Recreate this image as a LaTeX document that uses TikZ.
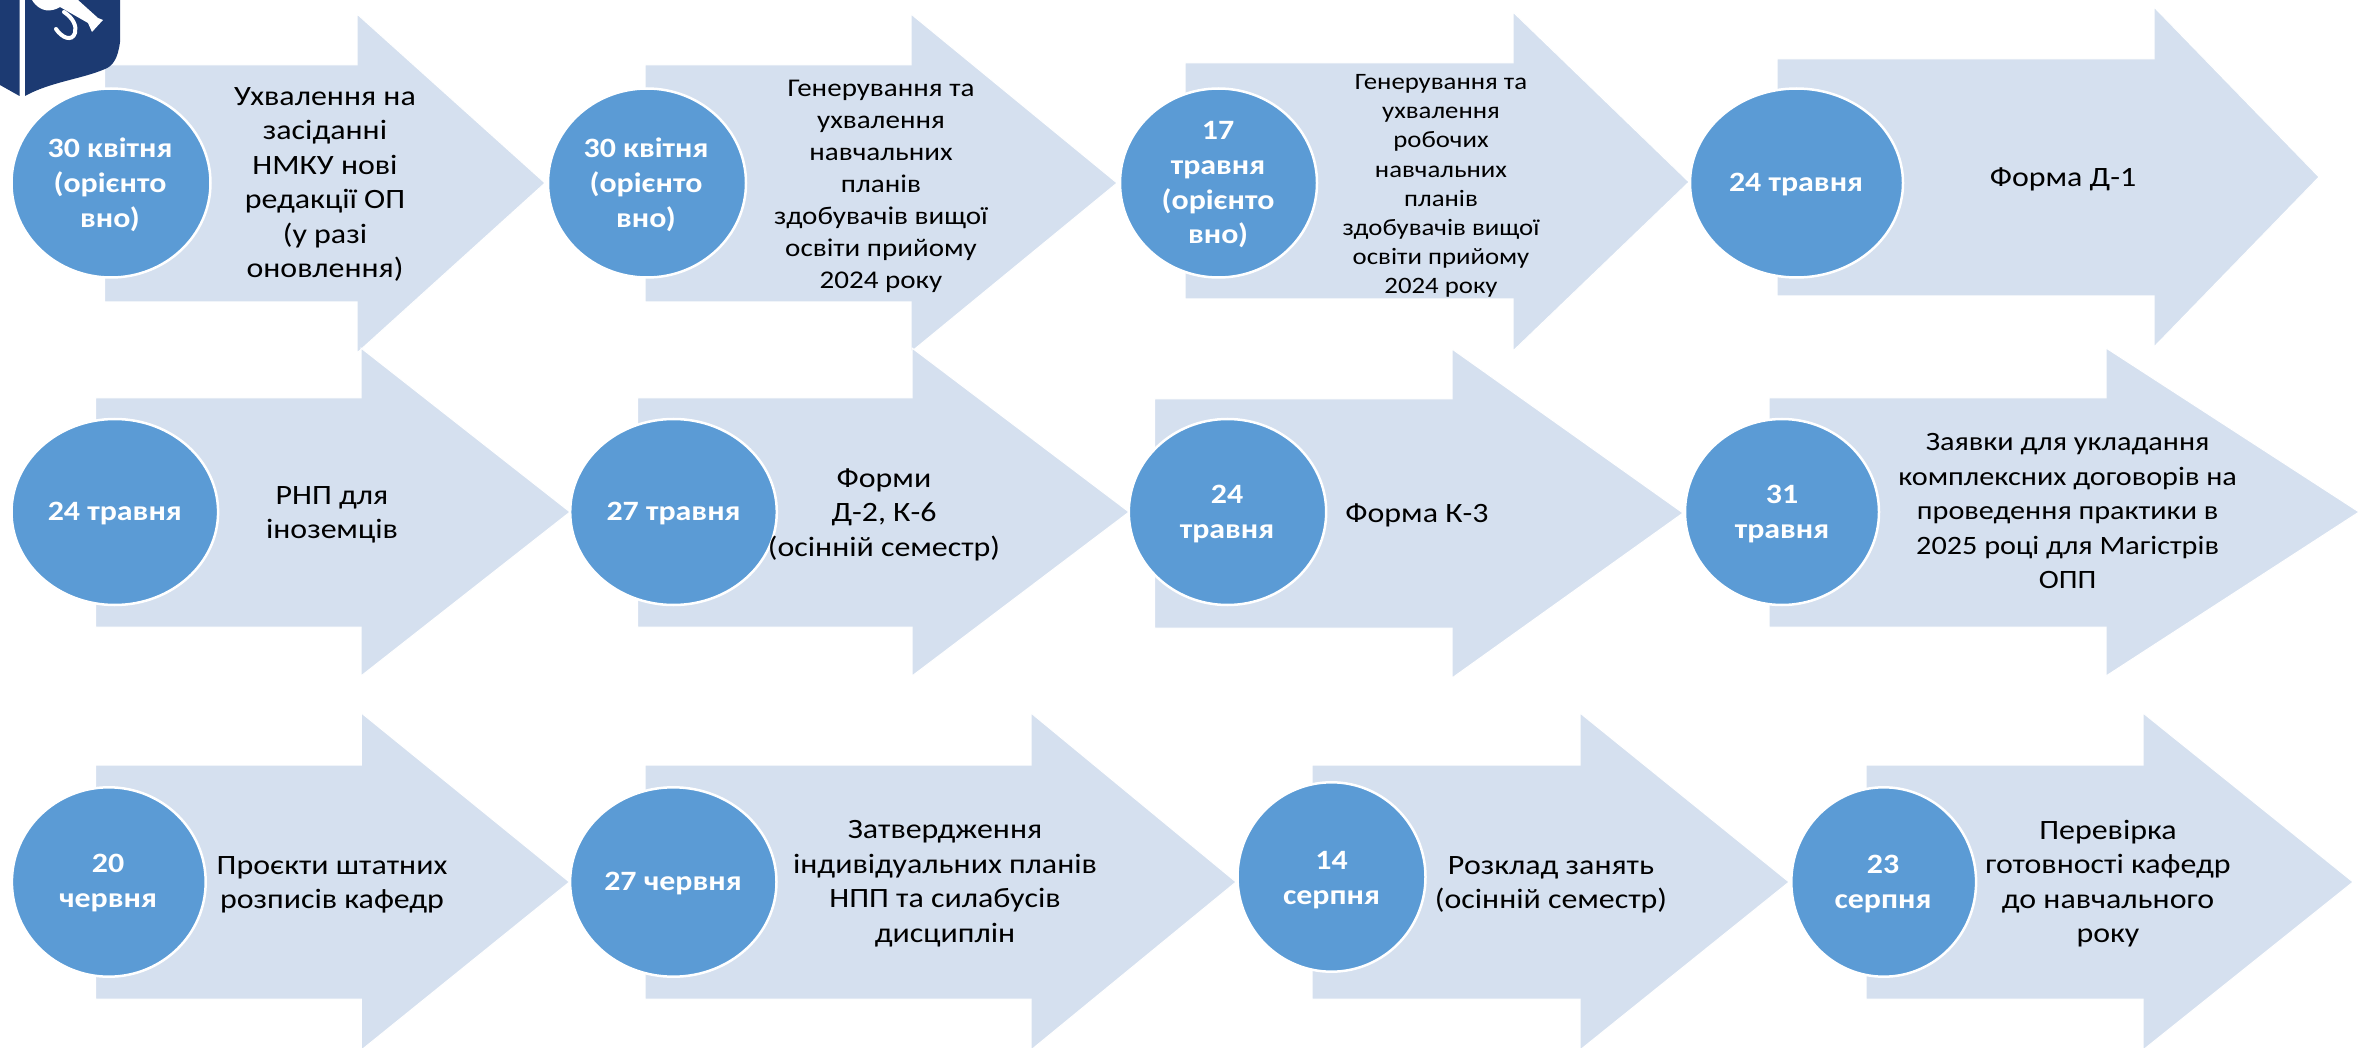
\documentclass[tikz,border=0pt]{standalone}
\usepackage{fontspec}
\setmainfont[FakeStretch=1.14]{Carlito}
\definecolor{arrowfill}{HTML}{D5E0EF}
\definecolor{discfill}{HTML}{5B9BD5}
\definecolor{logoblue}{HTML}{1C3A72}
\tikzset{
  arrowshape/.style={fill=arrowfill,draw=white,line width=1pt,line join=miter},
  disc/.style={ellipse,draw=white,line width=2.5pt,fill=discfill,inner sep=0pt},
  datetext/.style={text=white,yshift=-5pt,inner sep=0pt,align=center,font=\fontsize{28}{34.7}\selectfont\bfseries,execute at begin node=\strut,execute at end node=\strut},
  bodytext/.style={text=black,yshift=-4.5pt,inner sep=0pt,align=center,font=\fontsize{28}{34.5}\selectfont,execute at begin node=\strut,execute at end node=\strut},
  bodymid/.style={bodytext,font=\fontsize{25.5}{32}\selectfont},
  bodysmall/.style={bodytext,font=\fontsize{23.5}{29.2}\selectfont},
  bodywide/.style={bodytext,font=\fontsize{26.5}{34.5}\selectfont}
}
\usetikzlibrary{shapes.geometric}
% left, tail top, tail bottom, head x, head top, head bottom, tip x, mid y
\newcommand{\bigarrow}[8]{\path[arrowshape] (#1,#2) -- (#4,#2) -- (#4,#5) -- (#7,#8) -- (#4,#6) -- (#4,#3) -- (#1,#3) -- cycle;}
\newcommand{\dateellipse}[5]{\node[disc,minimum width=#4*2pt,minimum height=#5*2pt] (#1) at (#2,#3) {};}
\begin{document}
\begin{tikzpicture}[x=1pt,y=-1pt]
\useasboundingbox (0,0) rectangle (2359,1048);
% row 1
\bigarrow{104.5}{65}{302}{357}{14}{353}{545}{183}
\bigarrow{645}{65}{302}{911}{14}{352}{1117}{183}
\bigarrow{1185}{63}{299}{1513}{12}{351}{1689}{182}
\bigarrow{1777}{59}{296}{2154}{7}{347}{2319}{177}
% row 2
\bigarrow{95.7}{398}{627}{361}{348}{676}{570}{512}
\bigarrow{637.5}{398}{627}{912}{348}{676}{1129}{512}
\bigarrow{1154.6}{399}{628}{1452}{349}{678}{1683}{513}
\bigarrow{1769}{398}{627}{2106}{348}{676}{2359}{512}
% row 3
\bigarrow{95.7}{765}{999}{361.4}{713}{1050}{569.4}{882}
\bigarrow{645}{765}{999}{1031}{713}{1050}{1236}{882}
\bigarrow{1312}{765}{999}{1580}{713}{1050}{1789}{882}
\bigarrow{1866}{765}{999}{2143}{713}{1050}{2353}{882}
% logo
\path[fill=logoblue] (25,0) -- (120,0) -- (120,42) .. controls (118,58) and (113,66) .. (105,69) .. controls (82,79) and (50,82) .. (25,96) -- cycle;
\path[fill=logoblue] (0,0) -- (19.5,0) -- (19.5,96) -- (0,85) -- cycle;
\path[fill=white] (60,0) -- (78,0) -- (98,18) -- (103,20) -- (92,32) -- (88,23) -- (60,7) .. controls (52,12) and (40,13) .. (32,0) -- cycle;
\draw[white,line width=4pt,line cap=round] (56,29) .. controls (62,38) and (72,42) .. (75,33) .. controls (77,26) and (73,18) .. (64,12);
% discs
\dateellipse{d1}{111}{183}{99.5}{94.5}
\dateellipse{d2}{647}{183}{99}{94.5}
\dateellipse{d3}{1218.5}{183}{98.5}{94.5}
\dateellipse{d4}{1796.5}{183}{106.5}{94.5}
\dateellipse{d5}{114.8}{512}{103.3}{93}
\dateellipse{d6}{673.5}{512}{103.3}{93}
\dateellipse{d7}{1227.5}{512}{98.7}{93}
\dateellipse{d8}{1782}{512}{97}{93}
\dateellipse{d9}{108.8}{882}{96.9}{94.7}
\dateellipse{d10}{673.3}{882}{103.2}{94.7}
\dateellipse{d11}{1331.5}{877}{94}{94.7}
\dateellipse{d12}{1883.7}{882}{92.4}{94.7}
% date labels
\node[datetext] (c1) at (110,183) {30 квітня\\(орієнто\\вно)};
\node[datetext] (c2) at (646,183) {30 квітня\\(орієнто\\вно)};
\node[datetext] (c3) at (1218,183) {17\\травня\\(орієнто\\вно)};
\node[datetext] (c4) at (1796,180) {24 травня};
\node[datetext] (c5) at (114.8,509) {24 травня};
\node[datetext] (c6) at (673.5,509) {27 травня};
\node[datetext] (c7) at (1227,512) {24\\травня};
\node[datetext] (c8) at (1782,512) {31\\травня};
\node[datetext] (c9) at (108,881) {20\\червня};
\node[datetext] (c10) at (673,879) {27 червня};
\node[datetext] (c11) at (1331.5,878) {14\\серпня};
\node[datetext] (c12) at (1883,882) {23\\серпня};
% body labels
\node[bodytext] (t1) at (325,183) {Ухвалення на\\засіданні\\НМКУ нові\\редакції ОП\\(у разі\\оновлення)};
\node[bodymid] (t2) at (881,185) {Генерування та\\ухвалення\\навчальних\\планів\\здобувачів вищої\\освіти прийому\\2024 року};
\node[bodysmall] (t3) at (1441,184) {Генерування та\\ухвалення\\робочих\\навчальних\\планів\\здобувачів вищої\\освіти прийому\\2024 року};
\node[bodytext] (t4) at (2063,175) {Форма Д-1};
\node[bodytext] (t5) at (332,513) {РНП для\\іноземців};
\node[bodytext] (t6) at (884,513) {Форми\\Д-2, К-6\\(осінній семестр)};
\node[bodytext] (t7) at (1417,511.5) {Форма К-3};
\node[bodywide] (t8) at (2067.6,512) {Заявки для укладання\\комплексних договорів на\\проведення практики в\\2025 році для Магістрів\\ОПП};
\node[bodytext] (t9) at (332,883) {Проєкти штатних\\розписів кафедр};
\node[bodytext] (t10) at (945,882) {Затвердження\\індивідуальних планів\\НПП та силабусів\\дисциплін};
\node[bodytext] (t11) at (1551,883) {Розклад занять\\(осінній семестр)};
\node[bodytext] (t12) at (2108,882) {Перевірка\\готовності кафедр\\до навчального\\року};
\end{tikzpicture}
\end{document}
